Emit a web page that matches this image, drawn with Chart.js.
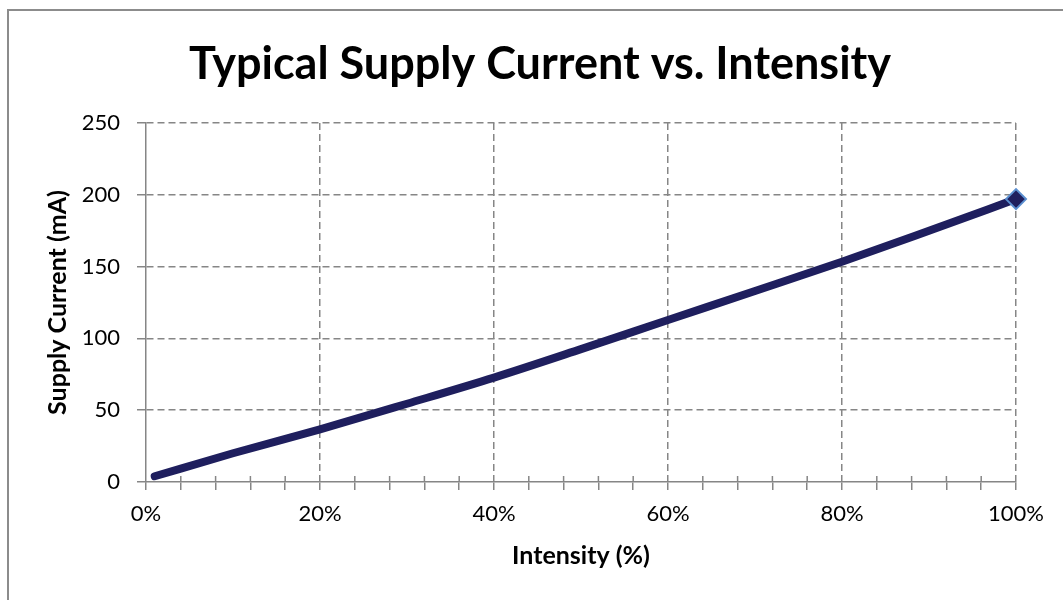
<!DOCTYPE html>
<html>
<head>
<meta charset="utf-8">
<title>Typical Supply Current vs. Intensity</title>
<script src="https://cdn.jsdelivr.net/npm/chart.js@4.4.1/dist/chart.umd.min.js"></script>
<style>
  html, body { margin: 0; padding: 0; background: #fff; overflow: hidden; }
  #frame { position: absolute; left: 7px; top: 9px; width: 1100px; height: 700px; border: 2px solid #8c8c8c; }
  #wrap { position: absolute; left: 0; top: 0; width: 1063px; height: 600px; }
</style>
</head>
<body>
<div id="frame"></div>
<div id="wrap"><canvas id="chart"></canvas></div>
<script>
// values
const intensity = [1, 10, 20, 30, 40, 50, 60, 70, 80, 90, 100];
const supplyCurrent = [4, 20, 36.7, 54.5, 72.7, 92.5, 112.8, 133, 153.4, 175, 197];
const xTicks = [0, 20, 40, 60, 80, 100];
const yTicks = [0, 50, 100, 150, 200, 250];

const GRAY = "#868686";
const NAVY = "#1f1f5e";
const FONT = "Lato, 'Open Sans', sans-serif";

// excel style minor ticks on the x axis cross the axis line
const minorTicks = {
  id: "minorTicks",
  afterDraw(chart) {
    const x = chart.scales.x;
    const ctx = chart.ctx;
    const bottom = chart.chartArea.bottom;
    ctx.save();
    ctx.strokeStyle = GRAY;
    ctx.lineWidth = 1.5;
    x.ticks.forEach(t => {
      if (xTicks.includes(t.value)) return;
      const px = x.getPixelForValue(t.value);
      ctx.beginPath();
      ctx.moveTo(px, bottom - 6);
      ctx.lineTo(px, bottom);
      ctx.stroke();
    });
    ctx.restore();
  }
};

new Chart(document.getElementById("chart"), {
  type: "line",
  data: {
    datasets: [{
      label: "Supply Current",
      data: intensity.map((v, i) => ({ x: v, y: supplyCurrent[i] })),
      borderColor: NAVY,
      borderWidth: 8,
      borderCapStyle: "round",
      cubicInterpolationMode: "monotone",
      pointStyle: "rectRot",
      pointRadius: intensity.map((v, i) => i === intensity.length - 1 ? 10 : 0),
      pointHoverRadius: 0,
      pointBackgroundColor: NAVY,
      pointBorderColor: "#5b8fd0",
      pointBorderWidth: 2,
      clip: false
    }]
  },
  options: {
    responsive: true,
    maintainAspectRatio: false,
    animation: false,
    layout: { padding: { left: 17, right: 0, top: 0, bottom: 0 } },
    plugins: {
      legend: { display: false },
      tooltip: { enabled: false },
      title: {
        display: true,
        text: "Typical Supply Current vs. Intensity",
        color: "#000",
        font: { family: FONT, size: 45, weight: "bold" },
        padding: { top: 37, bottom: 32 }
      }
    },
    scales: {
      x: {
        type: "linear",
        min: 0,
        max: 100,
        afterFit: s => { s.height = 118; },
        afterBuildTicks: s => {
          const t = [];
          for (let v = 0; v <= 100; v += 4) t.push({ value: v });
          s.ticks = t;
        },
        ticks: {
          autoSkip: false,
          maxRotation: 0,
          padding: 11,
          color: "#000",
          font: { family: FONT, size: 22 },
          callback: v => xTicks.includes(v) ? v + "%" : ""
        },
        grid: {
          color: c => c.tick && xTicks.includes(c.tick.value) && c.tick.value > 0 ? GRAY : "transparent",
          tickColor: GRAY,
          tickLength: 8,
          lineWidth: 1.5
        },
        border: { display: true, color: GRAY, width: 1.5, dash: [7, 4] },
        title: {
          display: true,
          text: "Intensity (%)",
          color: "#000",
          font: { family: FONT, size: 25, weight: "bold" },
          padding: { top: 0, bottom: 29 }
        }
      },
      y: {
        min: 0,
        max: 250,
        afterFit: s => { s.width = 129; },
        afterBuildTicks: s => { s.ticks = yTicks.map(v => ({ value: v })); },
        ticks: {
          padding: 17,
          color: "#000",
          font: { family: FONT, size: 22 }
        },
        grid: {
          color: c => c.tick && c.tick.value > 0 ? GRAY : "transparent",
          tickColor: GRAY,
          tickLength: 9,
          lineWidth: 1.5
        },
        border: { display: true, color: GRAY, width: 1.5, dash: [7, 4] },
        title: {
          display: true,
          text: "Supply Current (mA)",
          color: "#000",
          font: { family: FONT, size: 25, weight: "bold" },
          padding: { top: 26, bottom: 0 }
        }
      },
      // empty right axis only reserves the space right of the plot
      yRight: {
        position: "right",
        min: 0,
        max: 250,
        afterFit: s => { s.width = 47; },
        ticks: { display: false },
        grid: { display: false, drawOnChartArea: false },
        border: { display: false }
      }
    }
  },
  plugins: [minorTicks]
});
</script>
</body>
</html>
